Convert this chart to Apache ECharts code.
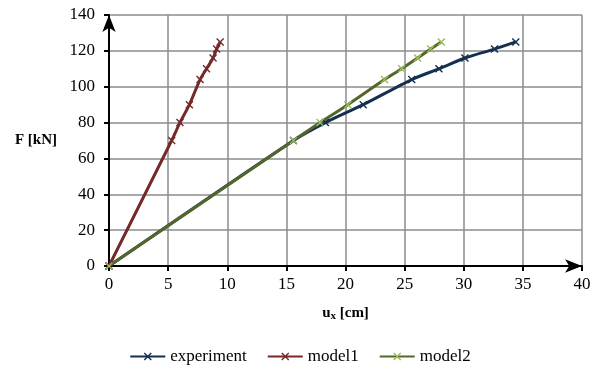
<!DOCTYPE html>
<html>
<head>
<meta charset="utf-8">
<script src="https://cdn.jsdelivr.net/npm/echarts@6/dist/echarts.min.js"></script>
<style>
  html, body { margin: 0; padding: 0; background: #fff; }
  #chart { width: 600px; height: 372px; }
</style>
</head>
<body>
<div id="chart"></div>
<script>
/* ── data ── */
const expX = [0, 15.6, 18.3, 21.5, 25.6, 27.9, 30.1, 32.6, 34.4];
const expY = [0, 70, 80, 90, 104, 110, 116, 121, 125];
const m1X = [0, 5.3, 6.0, 6.8, 7.7, 8.25, 8.8, 9.1, 9.4];
const m1Y = [0, 70, 80, 90, 104, 110, 116, 121, 125];
const m2X = [0, 15.6, 17.85, 20.2, 23.3, 24.75, 26.1, 27.2, 28.1];
const m2Y = [0, 70, 80, 90, 104, 110, 116, 121, 125];

/* ── colours ── */
const EXP = "#15304f";
const M1 = "#74292a";
const M2_LINE = "#53672c";
const M2_MARK = "#9bbb59";
const GRID = "#8c8c8c";
const FONT = "Liberation Serif, Times New Roman, serif";

const CROSS = "path://M0,1 L1,0 L4,3 L7,0 L8,1 L5,4 L8,7 L7,8 L4,5 L1,8 L0,7 L3,4 Z";

const chart = echarts.init(document.getElementById("chart"));

function pairs(xs, ys) {
  return xs.map((x, i) => [x, ys[i]]);
}

function lineSeries(name, xs, ys, lineColor, markColor) {
  return {
    name, type: "line",
    data: pairs(xs, ys),
    smooth: 0.25,
    symbol: CROSS, symbolSize: 8,
    lineStyle: { color: lineColor, width: 3 },
    itemStyle: { color: markColor },
    emphasis: { disabled: true },
  };
}

chart.setOption({
  animation: false,
  textStyle: { fontFamily: FONT },
  grid: { left: 109, right: 18, top: 15, bottom: 106 },
  legend: {
    bottom: 2, left: "center",
    itemWidth: 35, itemHeight: 10, itemGap: 20,
    textStyle: { fontFamily: FONT, fontSize: 17, color: "#000" },
    data: ["experiment", "model1", "model2"],
  },
  xAxis: {
    type: "value", min: 0, max: 40, interval: 5,
    name: "{u|u}{s|x}{u| [cm]}",
    nameLocation: "middle", nameGap: 38,
    nameTextStyle: {
      rich: {
        u: { fontFamily: FONT, fontSize: 15, fontWeight: "bold", color: "#000" },
        s: { fontFamily: FONT, fontSize: 11, fontWeight: "bold", color: "#000", padding: [7, 0, 0, 0] },
      },
    },
    axisLine: { onZero: false, lineStyle: { color: "#000", width: 2 }, symbol: ["none", "arrow"], symbolSize: [10, 17], symbolOffset: [0, 0] },
    axisTick: { show: true, inside: false, length: 5, lineStyle: { color: "#000", width: 2 } },
    axisLabel: { color: "#000", fontSize: 17, fontFamily: FONT, margin: 10 },
    splitLine: { show: true, lineStyle: { color: GRID, width: 1.5 } },
  },
  yAxis: {
    type: "value", min: 0, max: 140, interval: 20,
    name: "F [kN]", nameLocation: "middle", nameGap: 52, nameRotate: 0,
    nameTextStyle: { fontFamily: FONT, fontSize: 15, fontWeight: "bold", color: "#000", padding: [8, 0, 0, 0] },
    axisLine: { show: true, onZero: false, lineStyle: { color: "#000", width: 2 }, symbol: ["none", "arrow"], symbolSize: [10, 17], symbolOffset: [0, 0] },
    axisTick: { show: true, inside: false, length: 5, lineStyle: { color: "#000", width: 2 } },
    axisLabel: { color: "#000", fontSize: 17, fontFamily: FONT, margin: 14 },
    splitLine: { show: true, lineStyle: { color: GRID, width: 1.5 } },
  },
  series: [
    lineSeries("experiment", expX, expY, EXP, EXP),
    lineSeries("model1", m1X, m1Y, M1, M1),
    lineSeries("model2", m2X, m2Y, M2_LINE, M2_MARK),
  ],
});
</script>
</body>
</html>
